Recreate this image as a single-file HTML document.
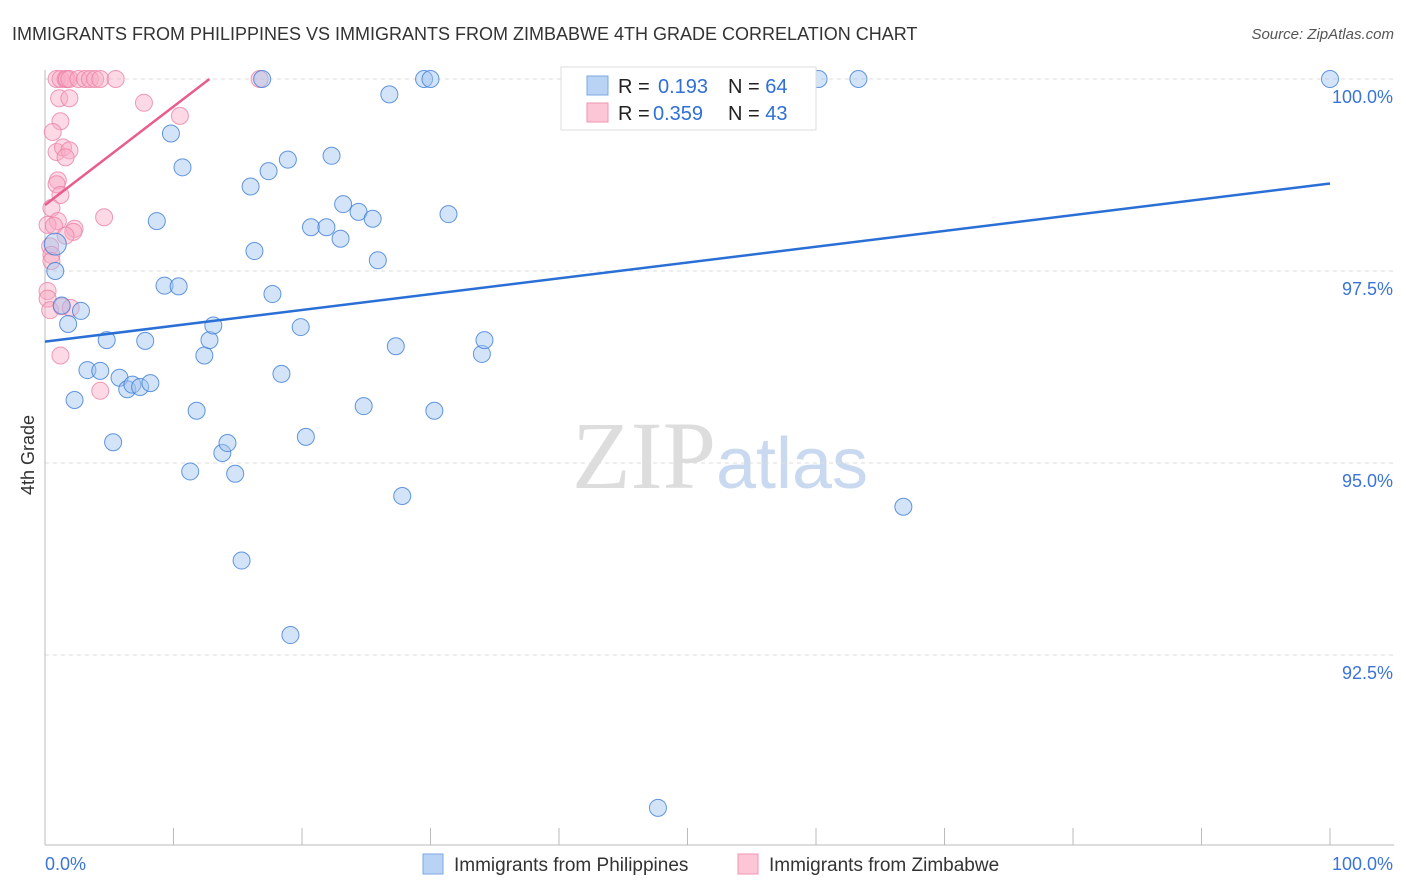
<!DOCTYPE html>
<html><head><meta charset="utf-8"><style>
body{margin:0;background:#fff;font-family:"Liberation Sans",sans-serif}
svg{display:block}
</style></head><body>
<svg id="c" width="1406" height="892">
<text x="12" y="40" font-size="18" fill="#333">IMMIGRANTS FROM PHILIPPINES VS IMMIGRANTS FROM ZIMBABWE 4TH GRADE CORRELATION CHART</text>
<text x="1394" y="39" font-size="15" fill="#555" font-style="italic" text-anchor="end">Source: ZipAtlas.com</text>
<text x="720" y="488" font-size="96" fill="#ddd" text-anchor="middle" font-family="Liberation Serif">ZIP<tspan fill="#c9d9f0" font-family="Liberation Sans" font-size="72">atlas</tspan></text>
<text x="34" y="455" font-size="18" fill="#333" transform="rotate(-90 34 455)" text-anchor="middle">4th Grade</text>
<g id="grid"></g><g id="pts"></g><g id="lines"></g>
<g>
<rect x="561" y="67" width="255" height="63" fill="#fff" stroke="#ddd"/>
<rect x="587" y="76" width="21" height="19" fill="#b9d3f5" stroke="#7aa7e3"/>
<rect x="587" y="103" width="21" height="19" fill="#fcc6d6" stroke="#f096b2"/>
<text x="618" y="93" font-size="20" fill="#222">R = <tspan fill="#2f6fd6" x="658">0.193</tspan><tspan x="728" fill="#222">N = </tspan><tspan fill="#2f6fd6">64</tspan></text>
<text x="618" y="120" font-size="20" fill="#222">R = <tspan fill="#2f6fd6" x="653">0.359</tspan><tspan x="728" fill="#222">N = </tspan><tspan fill="#2f6fd6">43</tspan></text>
</g>
<g>
<rect x="423" y="854" width="20" height="20" fill="#b9d3f5" stroke="#7aa7e3"/>
<text x="454" y="871" font-size="19" fill="#333">Immigrants from Philippines</text>
<rect x="738" y="854" width="20" height="20" fill="#fcc6d6" stroke="#f096b2"/>
<text x="769" y="871" font-size="19" fill="#333">Immigrants from Zimbabwe</text>
</g>
</svg>
<script>
const yTicks=[100,97.5,95,92.5];
const yTickLabels=["100.0%","97.5%","95.0%","92.5%"];
const xTickLabels=["0.0%","100.0%"];
const blueX=[0.8,0.8,1.3,1.8,2.8,2.3,3.3,4.3,4.8,5.3,5.8,6.4,6.8,7.4,8.2,7.8,8.7,9.3,9.8,10.4,10.7,11.3,11.8,12.4,12.8,13.1,13.8,14.2,14.8,15.3,16,16.3,16.9,17.4,17.7,18.4,18.9,19.1,19.9,20.3,20.7,21.9,22.3,23.0,23.2,24.4,24.8,25.5,25.9,26.8,27.3,27.8,29.5,30.0,30.3,31.4,34.0,34.2,47.7,60.2,63.3,66.8,100];
const blueY=[97.85,97.5,97.05,96.81,96.98,95.82,96.21,96.2,96.6,95.27,96.11,95.96,96.02,95.99,96.04,96.59,98.15,97.31,99.29,97.3,98.85,94.89,95.68,96.4,96.6,96.79,95.13,95.26,94.86,93.73,98.6,97.76,100,98.8,97.2,96.16,98.95,92.76,96.77,95.34,98.07,98.07,99.0,97.92,98.37,98.27,95.74,98.18,97.64,99.8,96.52,94.57,100,100,95.68,98.24,96.42,96.6,90.51,100,100,94.43,100];
const pinkX=[0.9,1.2,1.6,1.7,1.9,2.6,3.1,3.5,3.9,4.3,5.5,16.7,1.1,1.9,7.7,10.5,1.2,0.6,0.9,1.4,1.9,1.6,1.0,0.9,1.2,0.5,1.0,0.2,0.7,2.3,2.2,1.6,0.4,0.5,4.6,0.2,0.2,0.4,1.3,2.0,1.2,4.3,0.5];
const pinkY=[100,100,100,100,100,100,100,100,100,100,100,100,99.75,99.75,99.69,99.52,99.45,99.31,99.05,99.11,99.07,98.98,98.68,98.63,98.49,98.32,98.15,98.1,98.09,98.05,98.01,97.96,97.82,97.71,98.2,97.24,97.14,96.99,97.04,97.02,96.4,95.94,97.63];
const blueTrend=[0,96.58,100,98.64];
const pinkTrend=[0,98.36,12.8,100];
const X0=45,X1=1330,Y100=79,PX=76.8;
const sx=v=>X0+(X1-X0)*v/100, sy=v=>Y100+(100-v)*PX;
const NS="http://www.w3.org/2000/svg";
function mk(t,a,p){const e=document.createElementNS(NS,t);for(const k in a)e.setAttribute(k,a[k]);p.appendChild(e);return e;}
const g=document.getElementById('grid'),svg=document.getElementById('c');
yTicks.forEach((t,i)=>{
 const l=mk('line',{x1:X0,x2:1394,y1:sy(t),y2:sy(t),stroke:'#ddd','stroke-dasharray':'4,4'},g);
 
 
 const tx=mk('text',{x:1393,y:sy(t)+24,'font-size':18,fill:'#3a74d6','text-anchor':'end'},g);
 tx.textContent=yTickLabels[i];
 
 
});
const ax=mk('line',{x1:X0,x2:X0,y1:70,y2:845,stroke:'#bbb'},g);


const bx=mk('line',{x1:X0,x2:1394,y1:845,y2:845,stroke:'#bbb'},g);


for(let i=0;i<=10;i++){const t=mk('line',{x1:sx(i*10),x2:sx(i*10),y1:828,y2:845,stroke:'#bbb'},g);
 
 }
[[0,'start',45],[1,'end',1393]].forEach(([i,a,x])=>{const t=mk('text',{x:x,y:870,'font-size':18,fill:'#3a74d6','text-anchor':a},g);t.textContent=xTickLabels[i];
 
 });
const pg=document.getElementById('pts');
pinkX.forEach((x,i)=>{const c=mk('circle',{cx:sx(x),cy:sy(pinkY[i]),r:8.5,fill:'rgba(248,170,195,0.45)',stroke:'rgba(235,130,165,0.8)','stroke-width':1},pg);
 
 });
blueX.forEach((x,i)=>{const c=mk('circle',{cx:sx(x),cy:sy(blueY[i]),r:i==0?11:8.5,fill:'rgba(160,195,240,0.45)',stroke:'rgba(60,125,215,0.8)','stroke-width':1},pg);
 
 });
const lg=document.getElementById('lines');
const bl=mk('line',{x1:sx(blueTrend[0]),y1:sy(blueTrend[1]),x2:sx(blueTrend[2]),y2:sy(blueTrend[3]),stroke:'#2a6fd6','stroke-width':2.5},lg);


const pl=mk('line',{x1:sx(pinkTrend[0]),y1:sy(pinkTrend[1]),x2:sx(pinkTrend[2]),y2:sy(pinkTrend[3]),stroke:'#e85d8a','stroke-width':2.5},lg);


</script>
</body></html>
